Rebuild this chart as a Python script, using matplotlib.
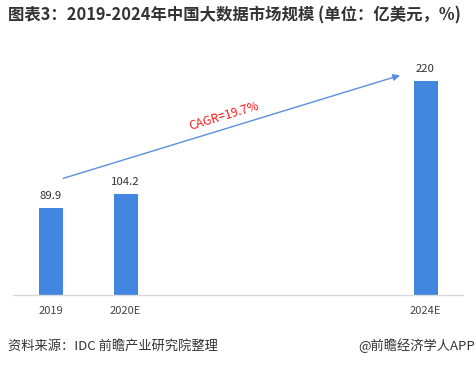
import matplotlib
matplotlib.use("Agg")
import matplotlib.pyplot as plt
import numpy as np

plt.rcParams['font.family'] = ['Noto Sans CJK SC', 'DejaVu Sans']

categories = ["2019", "2020E", "2021E", "2022E", "2023E", "2024E"]
tick_labels = ["2019", "2020E", "", "", "", "2024E"]
values = [89.9, 104.2, np.nan, np.nan, np.nan, 220]
value_labels = ["89.9", "104.2", "", "", "", "220"]
cagr_text = "CAGR=19.7%"
title = "图表3：2019-2024年中国大数据市场规模 (单位：亿美元，%)"
source = "资料来源：IDC 前瞻产业研究院整理"
credit = "@前瞻经济学人APP"

W, H = 476, 367
fig = plt.figure(figsize=(W / 100, H / 100), dpi=100)
ax = fig.add_axes([13 / W, (H - 295) / H, 450 / W, (295 - 52) / H])

x = np.arange(len(categories))
bar_color = "#4286E0"
ax.bar(x, values, width=0.32, color=bar_color, zorder=2)
for xi, v, lab in zip(x, values, value_labels):
    if lab:
        ax.annotate(lab, (xi, v), xytext=(0, 5), textcoords="offset points",
                    ha="center", va="bottom", fontsize=8.2, color="#333333")

ax.set_xlim(-0.5, len(categories) - 0.5)
ax.set_ylim(0, 250)
ax.set_xticks(x)
ax.set_xticklabels(tick_labels, fontsize=8, color="#444444")
ax.tick_params(axis="x", length=0, pad=8)
ax.set_yticks([])
for s in ["top", "right", "left"]:
    ax.spines[s].set_visible(False)
ax.spines["bottom"].set_color("#D9D9D9")
ax.spines["bottom"].set_linewidth(1.0)

# CAGR arrow
ax.annotate("", xy=(4.66, 226), xytext=(0.17, 120),
            arrowprops=dict(arrowstyle="-|>", color="#5B8FDD", lw=1.0,
                            mutation_scale=10, shrinkA=0, shrinkB=0))
ax.text(2.32, 183.5, cagr_text, color="#FF1A1A", fontsize=8.7, rotation=16.8,
        ha="center", va="center", rotation_mode="anchor")

fig.text(8 / W, 1 - 15 / H, title, fontsize=11.8, fontweight="bold",
         color="#333333", ha="left", va="center")
fig.text(8 / W, 1 - 346 / H, source, fontsize=9.5, color="#333333",
         ha="left", va="center")
fig.text(1 - 1 / W, 1 - 346 / H, credit, fontsize=9.5, color="#333333",
         ha="right", va="center")

fig.savefig("out.png", dpi=100)
